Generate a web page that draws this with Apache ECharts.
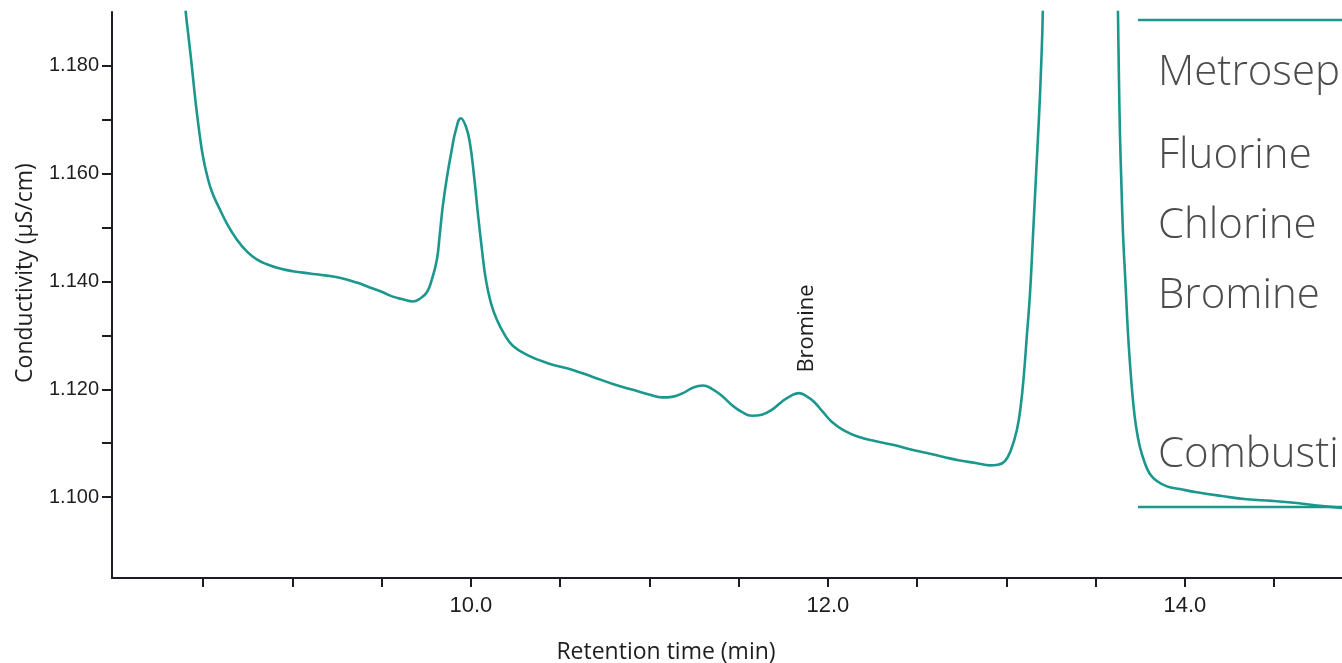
<!DOCTYPE html>
<html>
<head>
<meta charset="utf-8">
<script src="https://cdn.jsdelivr.net/npm/echarts@6/dist/echarts.min.js"></script>
<style>
  html, body { margin: 0; padding: 0; background: #ffffff; }
  #chart { width: 1342px; height: 663px; }
</style>
</head>
<body>
<div id="chart"></div>
<script>
// Chromatogram trace: retention time (min) and conductivity (µS/cm)
const retentionTime = [
  8.375, 8.403, 8.420, 8.437, 8.451, 8.465, 8.482, 8.499, 8.521, 8.549,
  8.588, 8.633, 8.689, 8.745, 8.801, 8.857, 8.930, 9.003, 9.098, 9.193,
  9.277, 9.361, 9.434, 9.507, 9.563, 9.619, 9.675, 9.714, 9.754, 9.782,
  9.810, 9.826, 9.843, 9.866, 9.894, 9.916, 9.944, 9.972, 9.994, 10.017,
  10.039, 10.062, 10.084, 10.112, 10.146, 10.190, 10.235, 10.314, 10.426, 10.571,
  10.683, 10.796, 10.908, 11.003, 11.070, 11.126, 11.188, 11.244, 11.300, 11.350,
  11.406, 11.462, 11.518, 11.574, 11.630, 11.686, 11.742, 11.793, 11.838, 11.877,
  11.922, 11.972, 12.028, 12.095, 12.162, 12.263, 12.364, 12.459, 12.555, 12.655,
  12.739, 12.835, 12.908, 12.952, 12.992, 13.025, 13.059, 13.081, 13.098, 13.115,
  13.132, 13.148, 13.165, 13.182, 13.193, 13.204, 13.221, 13.244, 13.412, 13.580,
  13.608, 13.625, 13.630, 13.636, 13.644, 13.653, 13.667, 13.681, 13.695, 13.709,
  13.725, 13.748, 13.776, 13.804, 13.843, 13.899, 13.972, 14.067, 14.207, 14.347,
  14.487, 14.627, 14.756, 14.880, 14.980
];
const conductivity = [
  1.1999, 1.1900, 1.1850, 1.1800, 1.1755, 1.1714, 1.1670, 1.1633, 1.1599, 1.1567,
  1.1538, 1.1508, 1.1478, 1.1456, 1.1441, 1.1432, 1.1424, 1.1419, 1.1415, 1.1411,
  1.1406, 1.1398, 1.1389, 1.1380, 1.1372, 1.1367, 1.1363, 1.1368, 1.1380, 1.1404,
  1.1441, 1.1487, 1.1540, 1.1593, 1.1646, 1.1681, 1.1703, 1.1688, 1.1659, 1.1599,
  1.1528, 1.1460, 1.1404, 1.1361, 1.1329, 1.1301, 1.1281, 1.1264, 1.1249, 1.1236,
  1.1223, 1.1210, 1.1199, 1.1190, 1.1185, 1.1186, 1.1193, 1.1203, 1.1207, 1.1201,
  1.1188, 1.1171, 1.1158, 1.1151, 1.1153, 1.1162, 1.1177, 1.1188, 1.1193, 1.1188,
  1.1177, 1.1158, 1.1138, 1.1123, 1.1113, 1.1104, 1.1097, 1.1089, 1.1082, 1.1074,
  1.1068, 1.1063, 1.1059, 1.1060, 1.1067, 1.1087, 1.1125, 1.1171, 1.1227, 1.1301,
  1.1376, 1.1478, 1.1590, 1.1701, 1.1785, 1.1900, 1.2297, 1.3040, 1.4715, 1.3040,
  1.2297, 1.1900, 1.1789, 1.1677, 1.1584, 1.1491, 1.1398, 1.1305, 1.1236, 1.1180,
  1.1134, 1.1093, 1.1063, 1.1043, 1.1030, 1.1020, 1.1015, 1.1009, 1.1002, 1.0996,
  1.0993, 1.0989, 1.0984, 1.0980, 1.0976
];

// Axis ticks and labels
const xTickValues = [8.5, 9.0, 9.5, 10.0, 10.5, 11.0, 11.5, 12.0, 12.5, 13.0, 13.5, 14.0, 14.5];
const xLabelValues = [10.0, 12.0, 14.0];
const yTickValues = [1.10, 1.11, 1.12, 1.13, 1.14, 1.15, 1.16, 1.17, 1.18];
const yLabelValues = [1.10, 1.12, 1.14, 1.16, 1.18];

// Annotated peak
const peakName = 'Bromine';
const peakTime = 11.838;

// Method panel text
const panelLines = ['Metrosep', 'Fluorine', 'Chlorine', 'Bromine', 'Combusti'];

const TEAL = '#1b978d';
const AXIS = '#1c1c24';

const seriesData = retentionTime.map((t, i) => [t, conductivity[i]]);
const peakIdx = retentionTime.indexOf(peakTime);

const chart = echarts.init(document.getElementById('chart'), null, { renderer: 'canvas' });

const panelY = [73, 156, 226, 296, 455];
const panelText = panelLines.map((txt, i) => ({
  type: 'text',
  x: 1158,
  y: panelY[i],
  style: {
    text: txt,
    fill: '#4c4c4c',
    font: '300 42px "Open Sans"',
    textAlign: 'left',
    textVerticalAlign: 'middle'
  },
  z: 10
}));

chart.setOption({
  animation: false,
  backgroundColor: '#ffffff',
  grid: { left: 112, top: 12, right: 0, bottom: 85, containLabel: false },
  xAxis: {
    type: 'value',
    min: 7.99,
    max: 14.88,
    axisLine: { show: true, onZero: false, lineStyle: { color: AXIS, width: 2 } },
    axisTick: {
      show: true, inside: false, length: 9,
      customValues: xTickValues,
      lineStyle: { color: AXIS, width: 2 }
    },
    axisLabel: {
      show: true, margin: 17,
      customValues: xLabelValues,
      formatter: v => v.toFixed(1),
      color: '#1e1e1e',
      fontSize: 22,
      fontFamily: '"Liberation Sans Narrow", "Liberation Sans", sans-serif'
    },
    splitLine: { show: false }
  },
  yAxis: {
    type: 'value',
    min: 1.085,
    max: 1.19,
    axisLine: { show: true, onZero: false, lineStyle: { color: AXIS, width: 2 } },
    axisTick: {
      show: true, inside: false, length: 10,
      customValues: yTickValues,
      lineStyle: { color: AXIS, width: 2 }
    },
    axisLabel: {
      show: true, margin: 13,
      customValues: yLabelValues,
      formatter: v => v.toFixed(3),
      color: '#1e1e1e',
      fontSize: 20,
      fontFamily: '"Liberation Sans", Arial, sans-serif'
    },
    splitLine: { show: false }
  },
  series: [{
    type: 'line',
    data: seriesData,
    showSymbol: false,
    smooth: 0.45,
    clip: true,
    lineStyle: { color: TEAL, width: 2.6 },
    markPoint: {
      symbol: 'circle',
      symbolSize: 1,
      itemStyle: { color: 'rgba(0,0,0,0)' },
      data: [{ name: peakName, coord: [peakTime, conductivity[peakIdx]] }],
      label: {
        show: true,
        formatter: '{b}',
        position: 'top',
        distance: 20,
        rotate: 90,
        align: 'left',
        verticalAlign: 'middle',
        offset: [0, 8],
        color: '#1e1e1e',
        fontSize: 22,
        fontFamily: '"Open Sans", sans-serif'
      }
    }
  }],
  graphic: [
    {
      type: 'text', x: 25, y: 273, rotation: Math.PI / 2,
      style: {
        text: 'Conductivity (µS/cm)', fill: '#1e1e1e',
        font: '23px "Open Sans"', textAlign: 'center', textVerticalAlign: 'middle'
      }
    },
    {
      type: 'text', x: 666, y: 652,
      style: {
        text: 'Retention time (min)', fill: '#1e1e1e',
        font: '23px "Open Sans"', textAlign: 'center', textVerticalAlign: 'middle'
      }
    },
    { type: 'line', shape: { x1: 1138, y1: 20, x2: 1342, y2: 20 }, style: { stroke: TEAL, lineWidth: 2.5 } },
    { type: 'line', shape: { x1: 1138, y1: 507, x2: 1342, y2: 507 }, style: { stroke: TEAL, lineWidth: 2.5 } }
  ].concat(panelText)
});
</script>
</body>
</html>
